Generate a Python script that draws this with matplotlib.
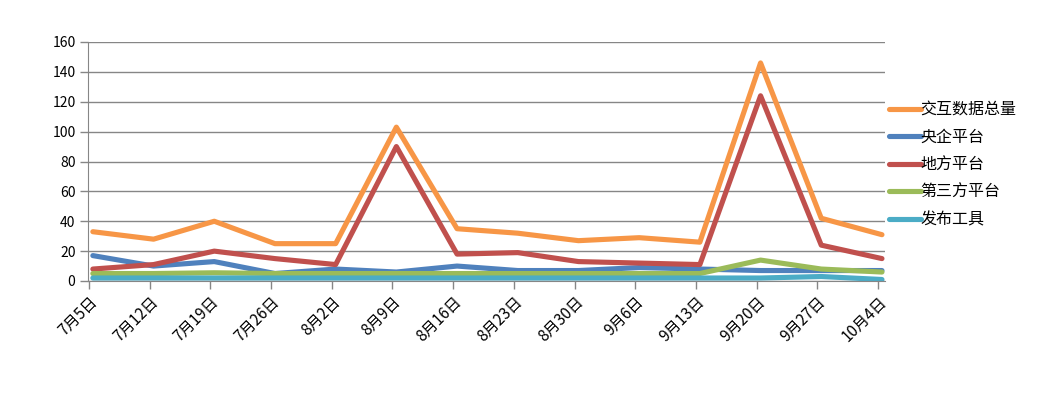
import matplotlib
matplotlib.use("Agg")
import matplotlib.pyplot as plt
import matplotlib.transforms as mtransforms
import numpy as np

plt.rcParams['font.family'] = ['Noto Sans CJK SC', 'DejaVu Sans']

categories = ["7月5日", "7月12日", "7月19日", "7月26日", "8月2日", "8月9日", "8月16日",
              "8月23日", "8月30日", "9月6日", "9月13日", "9月20日", "9月27日", "10月4日"]
total = [33, 28, 40, 25, 25, 103, 35, 32, 27, 29, 26, 146, 42, 31]
central = [17, 10, 13, 5, 8, 6, 10, 7, 7, 9, 8, 7, 7, 7]
local = [8, 11, 20, 15, 11, 90, 18, 19, 13, 12, 11, 124, 24, 15]
third = [5, 5, 5.5, 5, 5, 5, 5, 5, 5, 5, 5, 14, 8, 6]
tool = [2, 2, 2, 2, 2, 2, 2, 2, 2, 2, 2, 2, 3, 1]

series_names = ["交互数据总量", "央企平台", "地方平台", "第三方平台", "发布工具"]
series_vals = [total, central, local, third, tool]
colors = ["#F79646", "#4F81BD", "#C0504D", "#9BBB59", "#4BACC6"]
yticks = [0, 20, 40, 60, 80, 100, 120, 140, 160]

W, H = 1048, 394
fig = plt.figure(figsize=(W / 100, H / 100), dpi=100)
ax = fig.add_axes([88 / W, 1 - 281 / H, (885 - 88) / W, (281 - 42) / H])

x = np.arange(len(categories))
for name, vals, c in zip(series_names, series_vals, colors):
    ax.plot(x, vals, color=c, lw=3.7, label=name, solid_capstyle='round',
            solid_joinstyle='round')

ax.set_xlim(-0.08, len(categories) - 1 + 0.05)
ax.set_ylim(0, 160)
ax.set_yticks(yticks)
ax.set_yticklabels([str(v) for v in yticks], fontsize=10)
ax.set_xticks(x - 0.065)
ax.set_xticklabels(categories, fontsize=11, rotation=45, ha='right', va='top',
                   rotation_mode='anchor')
offset = mtransforms.ScaledTranslation(6 / 100, -4 / 100, fig.dpi_scale_trans)
for lab in ax.get_xticklabels():
    lab.set_transform(lab.get_transform() + offset)
ax.yaxis.grid(True, color='#868686', lw=1)
ax.set_axisbelow(True)
for s in ['top', 'right']:
    ax.spines[s].set_visible(False)
for s in ['left', 'bottom']:
    ax.spines[s].set_color('#868686')
ax.tick_params(axis='both', color='#868686', length=6, width=1, pad=3)

leg = fig.legend(loc='upper left', bbox_to_anchor=(883 / W, 1 - 95 / H), frameon=False,
                 fontsize=11.5, handlelength=1.95, handletextpad=0.0, labelspacing=0.66,
                 borderaxespad=0)

fig.savefig("out.png", dpi=100)
